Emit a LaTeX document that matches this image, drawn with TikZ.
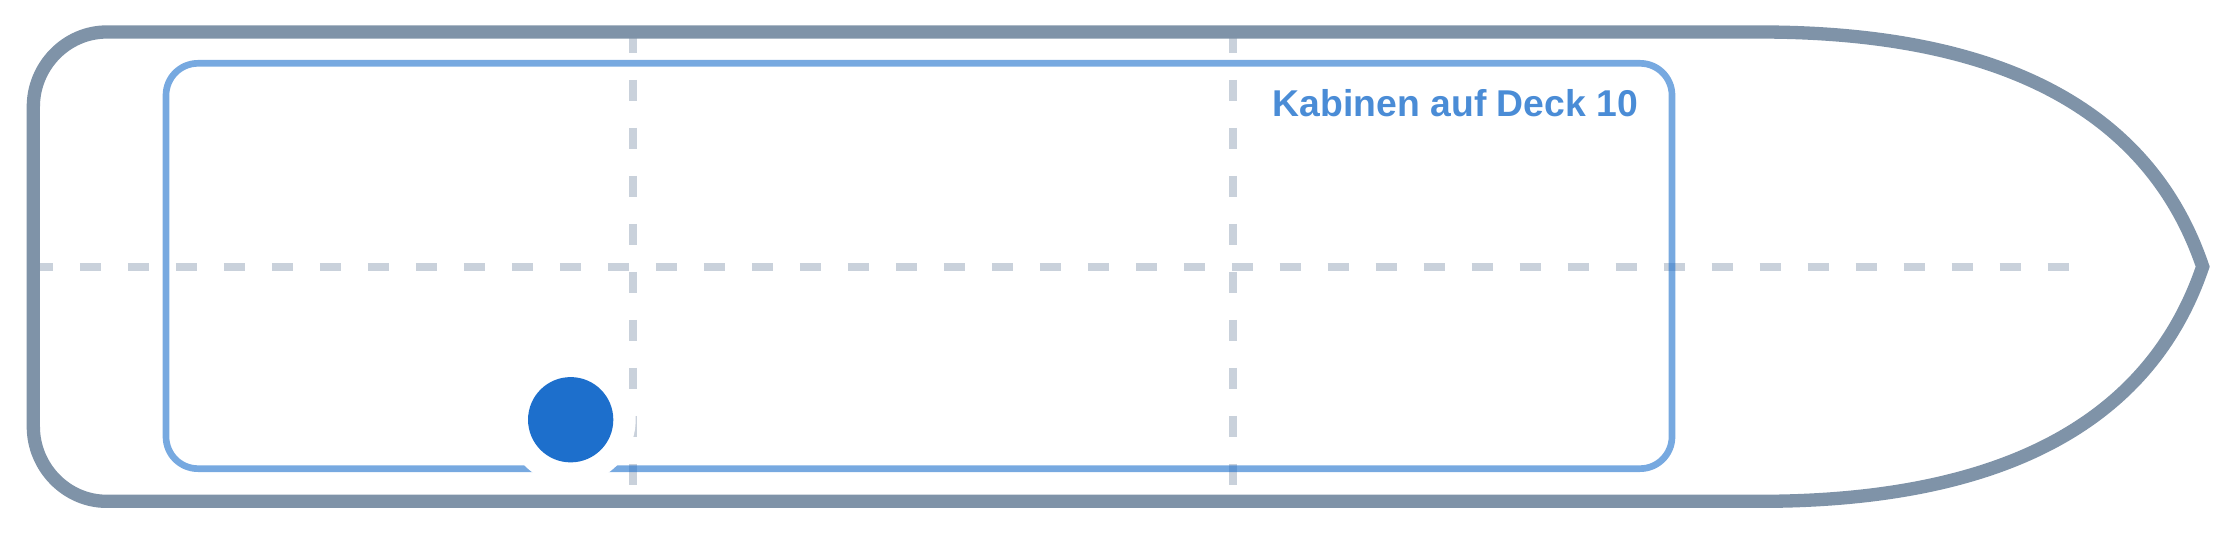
\documentclass[tikz,border=0pt]{standalone}
\usepackage{fontspec}
\newfontfamily\labfont{Liberation Sans}
\definecolor{hullc}{RGB}{127,147,168}
\definecolor{dotc}{RGB}{29,111,204}
\definecolor{labc}{RGB}{74,140,214}
\definecolor{dashc}{RGB}{148,163,184}
\tikzset{
  hull/.style={draw=hullc, line width=3.79pt, line join=miter},
  deckbox/.style={draw=dotc, draw opacity=0.6, line width=1.9pt, rounded corners=0.32cm},
  guide/.style={draw=dashc, draw opacity=0.5, line width=2.28pt, dash pattern=on 0.2133cm off 0.2667cm},
  halo/.style={circle, fill=white, minimum size=1.30cm, inner sep=0pt},
  spot/.style={circle, fill=dotc, minimum size=0.853cm, inner sep=0pt},
  decklabel/.style={text=labc, font=\labfont\bfseries\fontsize{10.62}{12}\selectfont, inner sep=0pt, anchor=base east}
}
\begin{document}
\begin{tikzpicture}[x=0.026667cm, y=-0.026667cm]
\useasboundingbox (0,0) rectangle (840,200);
% guide lines
\coordinate (hL) at (12,100);
\coordinate (hR) at (776,100);
\coordinate (v1T) at (237.4,12);
\coordinate (v1B) at (237.4,188);
\coordinate (v2T) at (462.4,12);
\coordinate (v2B) at (462.4,188);
\draw[guide] (hL) -- (hR);
\draw[guide] (v1T) -- (v1B);
\draw[guide] (v2T) -- (v2B);
% deck outline
\draw[deckbox] (62.25,23.75) rectangle (627,175.75);
% hull
\draw[hull] (40,12) -- (660,12)
  .. controls (745,12) and (805,38) .. (826,100)
  .. controls (805,162) and (745,188) .. (660,188)
  -- (40,188)
  .. controls (24.8,188) and (12.5,175.2) .. (12.5,160)
  -- (12.5,40)
  .. controls (12.5,24.8) and (24.8,12) .. (40,12) -- cycle;
% label
\node[decklabel] (lab) at (614.5,43.8) {Kabinen auf Deck 10};
% position marker
\node[halo] (ring) at (214,157.4) {};
\node[spot] (pos) at (ring.center) {};
\end{tikzpicture}
\end{document}
